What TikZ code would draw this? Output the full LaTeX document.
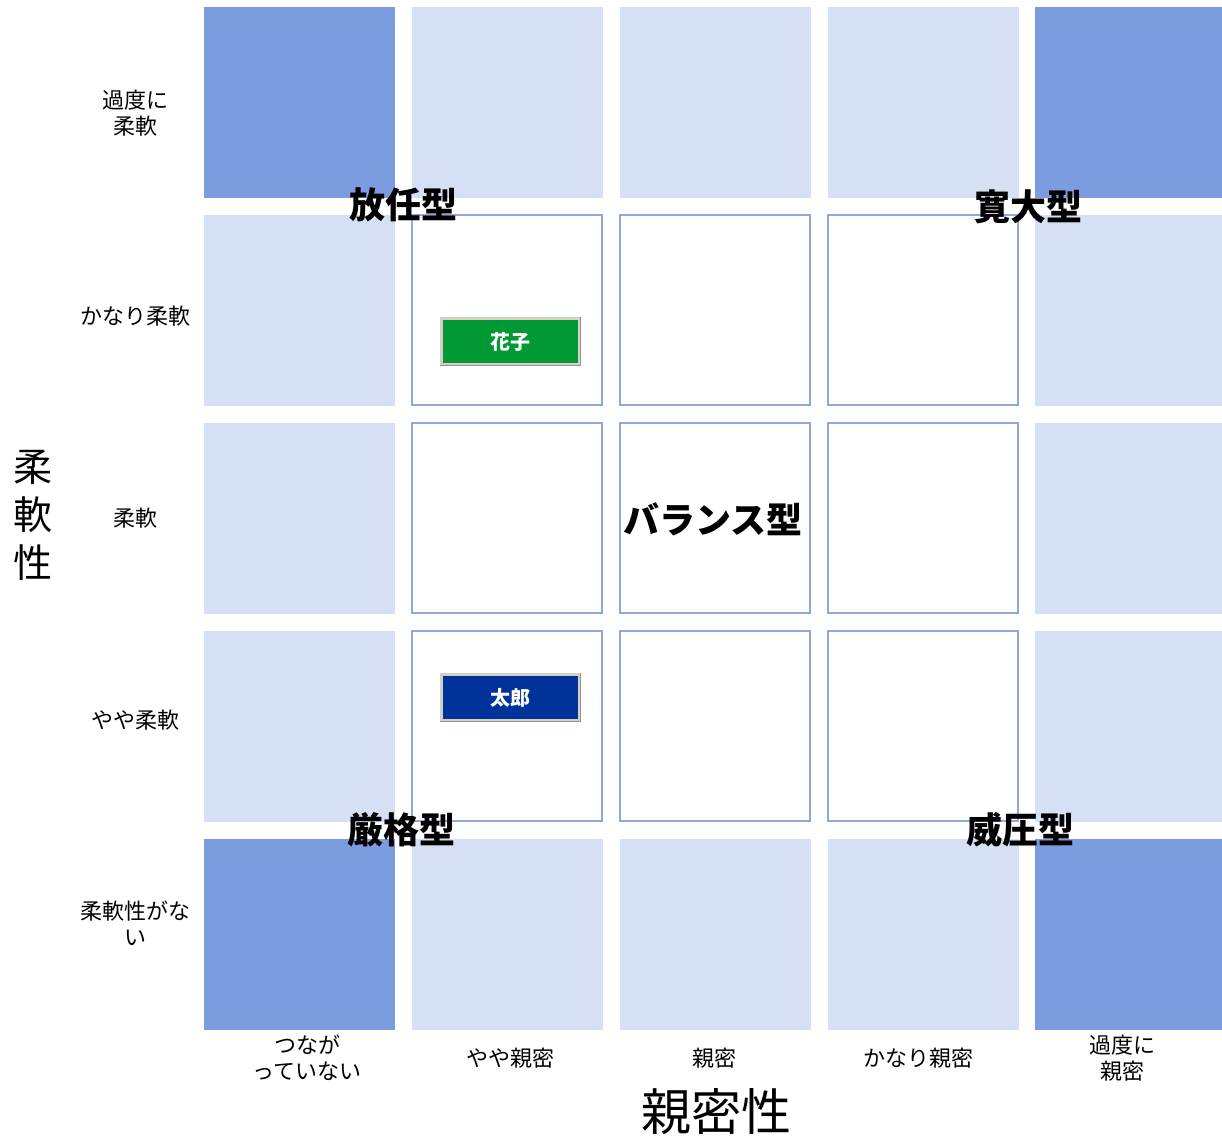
\documentclass[tikz,border=0pt]{standalone}
\usepackage{fontspec}
\newfontfamily\jp{Noto Sans CJK JP}
\definecolor{darkcell}{RGB}{123,157,223}
\definecolor{lightcell}{RGB}{214,224,244}
\definecolor{cellborder}{RGB}{142,170,219}
\definecolor{hanako}{RGB}{0,153,51}
\definecolor{taro}{RGB}{0,51,153}
\definecolor{btnframe}{RGB}{212,208,200}
\definecolor{btnshade}{RGB}{150,146,140}
\begin{document}
\begin{tikzpicture}[x=1pt,y=-1pt,
  cell/.style={minimum width=191pt,minimum height=191pt,inner sep=0pt,outer sep=0pt},
  dcell/.style={cell,fill=darkcell},
  lcell/.style={cell,fill=lightcell},
  icell/.style={cell,fill=white,draw=cellborder,line width=1.5pt,minimum width=190pt,minimum height=190pt},
  rowlab/.style={font=\jp\fontsize{22}{26}\selectfont,align=center,inner sep=0pt},
  axislab/.style={font=\jp\fontsize{50}{52}\selectfont,inner sep=0pt},
  typelab/.style={font=\jp\bfseries\fontsize{36}{40}\selectfont,inner sep=0pt},
  btn/.style={minimum width=138pt,minimum height=46pt,inner sep=0pt,draw=btnframe,line width=2.5pt,text=white,font=\jp\bfseries\fontsize{20}{22}\selectfont,
    drop shadow/.style={}}]
\useasboundingbox (0,0) rectangle (1222,1135);
% row 0
\node[dcell] (c00) at (299.5,102.5) {};
\node[lcell] (c01) at (507,102.5) {};
\node[lcell] (c02) at (715,102.5) {};
\node[lcell] (c03) at (923,102.5) {};
\node[dcell,minimum width=187pt] (c04) at (1128.5,102.5) {};
% row 1
\node[lcell] (c10) at (299.5,310) {};
\node[icell] (c11) at (507,310) {};
\node[icell] (c12) at (715,310) {};
\node[icell] (c13) at (923,310) {};
\node[lcell,minimum width=187pt] (c14) at (1128.5,310) {};
% row 2
\node[lcell] (c20) at (299.5,518) {};
\node[icell] (c21) at (507,518) {};
\node[icell] (c22) at (715,518) {};
\node[icell] (c23) at (923,518) {};
\node[lcell,minimum width=187pt] (c24) at (1128.5,518) {};
% row 3
\node[lcell] (c30) at (299.5,726) {};
\node[icell] (c31) at (507,726) {};
\node[icell] (c32) at (715,726) {};
\node[icell] (c33) at (923,726) {};
\node[lcell,minimum width=187pt] (c34) at (1128.5,726) {};
% row 4
\node[dcell] (c40) at (299.5,934.5) {};
\node[lcell] (c41) at (507,934.5) {};
\node[lcell] (c42) at (715,934.5) {};
\node[lcell] (c43) at (923,934.5) {};
\node[dcell,minimum width=187pt] (c44) at (1128.5,934.5) {};
% row labels
\node[rowlab] (r0) at (135,113) {過度に\\柔軟};
\node[rowlab] (r1) at (135,316) {かなり柔軟};
\node[rowlab] (r2) at (135,518) {柔軟};
\node[rowlab] (r3) at (135,720) {やや柔軟};
\node[rowlab] (r4) at (135,923) {柔軟性がな\\い};
% column labels
\node[rowlab] (k0) at (307,1058) {つなが\\っていない};
\node[rowlab] (k1) at (510,1058) {やや親密};
\node[rowlab] (k2) at (714,1058) {親密};
\node[rowlab] (k3) at (918,1058) {かなり親密};
\node[rowlab] (k4) at (1122,1058) {過度に\\親密};
% axis labels
\node[inner sep=0pt,font=\jp\fontsize{39}{48}\selectfont,align=center] (ay) at (33,515) {柔\\軟\\性};
\node[axislab] (ax) at (716,1112) {親密性};
% type labels
\node[typelab] (t1) at (403,205) {放任型};
\node[typelab] (t2) at (1028,207) {寛大型};
\node[typelab] (t3) at (713,519) {バランス型};
\node[typelab] (t4) at (401,830) {厳格型};
\node[typelab] (t5) at (1020,830) {威圧型};
% name buttons
\node[btn,fill=hanako] (hanako) at (510.5,341.5) {花子};
\draw[btnshade,line width=1.2pt] (hanako.south west) -- (hanako.south east) -- (hanako.north east);
\node[btn,fill=taro] (taro) at (510.5,697.5) {太郎};
\draw[btnshade,line width=1.2pt] (taro.south west) -- (taro.south east) -- (taro.north east);
\end{tikzpicture}
\end{document}
